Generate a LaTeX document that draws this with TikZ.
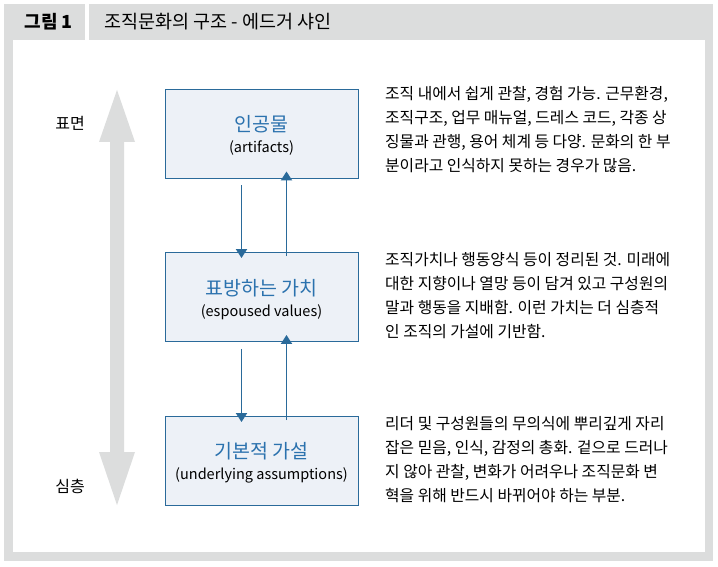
\documentclass[tikz,border=0pt]{standalone}
\usepackage{fontspec}
\setmainfont{Noto Sans CJK KR}
\usetikzlibrary{arrows.meta}
\definecolor{frame}{HTML}{DCDDDD}
\definecolor{bfill}{HTML}{EDF1F7}
\definecolor{bline}{HTML}{2A6A9A}
\definecolor{btext}{HTML}{2B72AE}
\begin{document}
\begin{tikzpicture}[x=1pt,y=-1pt,
 box/.style={draw=bline,fill=bfill,line width=0.9pt,minimum width=193pt,minimum height=89pt,inner sep=0pt},
 ttl/.style={font=\fontsize{19.5}{22}\selectfont,text=btext,inner sep=0pt},
 sub/.style={font=\fontsize{14.5}{16}\selectfont,inner sep=0pt},
 desc/.style={anchor=north west,align=left,font=\fontsize{15.8}{24}\selectfont,inner sep=0pt},
 conn/.style={draw=bline,line width=1.9pt},
 side/.style={font=\fontsize{16}{18}\selectfont}]
\useasboundingbox (0,0) rectangle (718,567);
\fill[frame] (4,4) rectangle (713,561);
\fill[white] (13,40) rectangle (705,552);
\fill[white] (85,4) rectangle (89,40);
\node[anchor=west,font=\fontsize{18}{20}\selectfont\bfseries] (fig) at (21,22) {그림 1};
\node[anchor=west,font=\fontsize{18.5}{20}\selectfont] (title) at (101,22) {조직문화의 구조 - 에드거 샤인};
% big arrow
\fill[frame] (117,90) -- (135,142) -- (124,142) -- (124,452) -- (135,452) -- (117,505) -- (99,452) -- (110,452) -- (110,142) -- (99,142) -- cycle;
\node[side] (top) at (70,123) {표면};
\node[side] (bot) at (70,486) {심층};
\node[box] (b1) at (261.5,133.5) {};
\node[ttl] (t1) at (261.5,124) {인공물};
\node[sub] (s1) at (261.5,148) {(artifacts)};
\node[box] (b2) at (261.5,297) {};
\node[ttl] (t2) at (261.5,288) {표방하는 가치};
\node[sub] (s2) at (261.5,312) {(espoused values)};
\node[box] (b3) at (261.5,461) {};
\node[ttl] (t3) at (261.5,451) {기본적 가설};
\node[sub] (s3) at (261.5,475) {(underlying assumptions)};
\draw[conn,-{Triangle[width=11pt,length=9pt]}] ([xshift=-20pt]b1.south) ++(0,7) -- ([xshift=-20pt,yshift=-6pt]b2.north);
\draw[conn,-{Triangle[width=11pt,length=9pt]}] ([xshift=25pt,yshift=-4pt]b2.north) -- ([xshift=25pt,yshift=7pt]b1.south);
\draw[conn,-{Triangle[width=11pt,length=9pt]}] ([xshift=-20pt]b2.south) ++(0,7) -- ([xshift=-20pt,yshift=-6pt]b3.north);
\draw[conn,-{Triangle[width=11pt,length=9pt]}] ([xshift=25pt,yshift=-4pt]b3.north) -- ([xshift=25pt,yshift=7pt]b2.south);
\node[desc] (d1) at (385,86) {조직 내에서 쉽게 관찰, 경험 가능. 근무환경,\\조직구조, 업무 매뉴얼, 드레스 코드, 각종 상\\징물과 관행, 용어 체계 등 다양. 문화의 한 부\\분이라고 인식하지 못하는 경우가 많음.};
\node[desc] (d2) at (385,252) {조직가치나 행동양식 등이 정리된 것. 미래에\\대한 지향이나 열망 등이 담겨 있고 구성원의\\말과 행동을 지배함. 이런 가치는 더 심층적\\인 조직의 가설에 기반함.};
\node[desc] (d3) at (385,416) {리더 및 구성원들의 무의식에 뿌리깊게 자리\\잡은 믿음, 인식, 감정의 총화. 겉으로 드러나\\지 않아 관찰, 변화가 어려우나 조직문화 변\\혁을 위해 반드시 바뀌어야 하는 부분.};
\end{tikzpicture}
\end{document}
